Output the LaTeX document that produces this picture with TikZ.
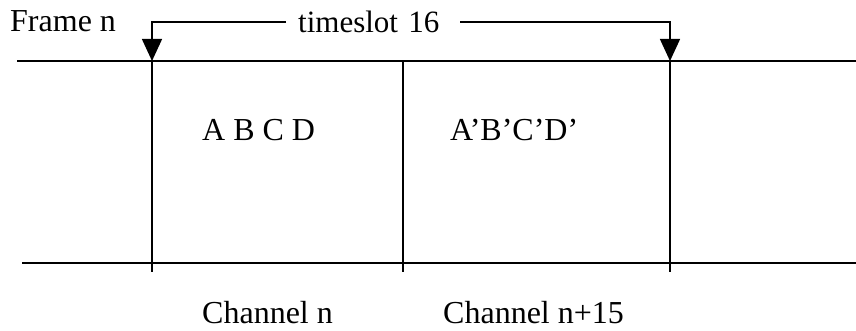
\documentclass[tikz,border=0pt]{standalone}
\usepackage{fontspec}
\setmainfont{Liberation Serif}
\usetikzlibrary{arrows.meta}
\begin{document}
\begin{tikzpicture}[x=1pt,y=-1pt,
  line/.style={line width=1.4pt},
  tip/.style={line width=1.4pt,-{Triangle[length=22pt,width=20pt]}},
  lbl/.style={inner sep=0pt,anchor=base west,font=\fontsize{32}{38}\selectfont}]
\useasboundingbox (0,0) rectangle (856,331);
% rails
\coordinate (tl) at (17,61);
\coordinate (tr) at (856,61);
\coordinate (bl) at (22,263);
\coordinate (br) at (856,263);
\draw[line] (tl) -- (tr);
\draw[line] (bl) -- (br);
% slot boundaries
\coordinate (v1t) at (152,61); \coordinate (v1b) at (152,272);
\coordinate (v2t) at (403,61); \coordinate (v2b) at (403,272);
\coordinate (v3t) at (670,61); \coordinate (v3b) at (670,272);
\draw[line] (v1t) -- (v1b);
\draw[line] (v2t) -- (v2b);
\draw[line] (v3t) -- (v3b);
% labels
\node[lbl] (frame) at (10,32) {Frame n};
\node[inner sep=0pt,anchor=west,text width=174pt,align=left,font=\fontsize{31}{36}\selectfont] (ts) at (286,22) {\hspace*{12pt}timeslot 16};
\draw[tip] (ts.west) -| (v1t);
\draw[tip] (ts.east) -| (v3t);
\node[lbl] (abcd) at (202,141) {A B C D};
\node[lbl] (abcdp) at (450,141) {A’B’C’D’};
\node[lbl] (ch1) at (202,323) {Channel n};
\node[lbl] (ch2) at (443,323) {Channel n+15};
\end{tikzpicture}
\end{document}
